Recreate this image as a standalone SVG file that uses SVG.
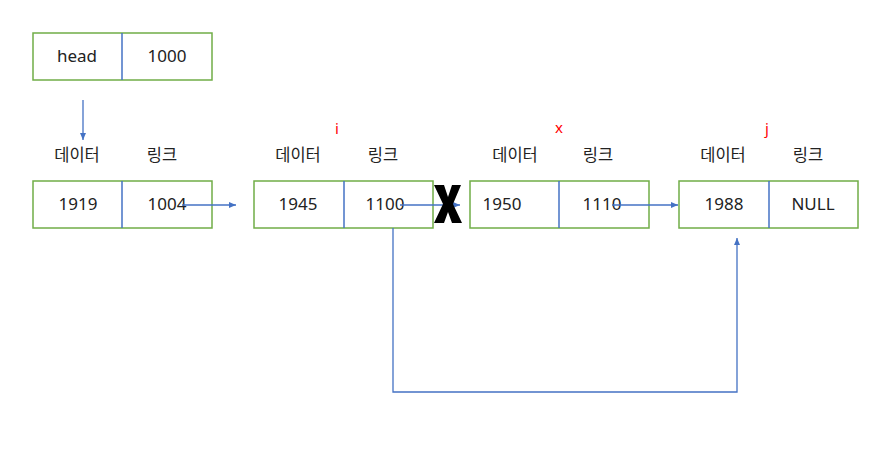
<svg xmlns="http://www.w3.org/2000/svg" width="883" height="462" viewBox="0 0 883 462">
<style>
.box{fill:#fff;stroke:#70ad47;stroke-width:1.5}
.div{stroke:#4472c4;stroke-width:1.5}
.t{font-family:"Noto Sans CJK KR","Noto Sans",sans-serif;font-size:16.5px;fill:#222;text-anchor:middle}
.n{font-family:"Noto Sans","Noto Sans CJK KR",sans-serif;font-size:17px;fill:#222;text-anchor:middle}
.r{font-family:"Noto Sans","Noto Sans CJK KR",sans-serif;font-size:15px;fill:#ff0000;text-anchor:middle}
.c{fill:none;stroke:#4472c4;stroke-width:1.3}
</style>
<defs>
<marker id="ah" markerWidth="8" markerHeight="8" refX="7" refY="4" orient="auto" markerUnits="userSpaceOnUse">
<path d="M0,1 L7,4 L0,7 Z" fill="#4472c4"/>
</marker>
</defs>
<rect width="883" height="462" fill="#fff"/>
<g id="head">
<rect class="box" x="33" y="33" width="179" height="47"/>
<line class="div" x1="122" y1="33" x2="122" y2="80"/>
<text class="n" x="77" y="62">head</text>
<text class="n" x="167" y="62">1000</text>
</g>
<g id="node1">
<text class="t" x="77" y="161">데이터</text>
<text class="t" x="162" y="161">링크</text>
<rect class="box" x="33" y="181" width="179" height="47"/>
<line class="div" x1="122" y1="181" x2="122" y2="228"/>
<text class="n" x="78" y="210">1919</text>
<text class="n" x="167" y="210">1004</text>
</g>
<g id="node2">
<text class="r" x="337" y="134">i</text>
<text class="t" x="298" y="161">데이터</text>
<text class="t" x="383" y="161">링크</text>
<rect class="box" x="254" y="181" width="179" height="47"/>
<line class="div" x1="344" y1="181" x2="344" y2="228"/>
<text class="n" x="298" y="210">1945</text>
<text class="n" x="385" y="210">1100</text>
</g>
<g id="node3">
<text class="r" x="559" y="133">x</text>
<text class="t" x="515" y="161">데이터</text>
<text class="t" x="598" y="161">링크</text>
<rect class="box" x="470" y="181" width="179" height="47"/>
<line class="div" x1="559" y1="181" x2="559" y2="228"/>
<text class="n" x="502" y="210">1950</text>
<text class="n" x="602" y="210">1110</text>
</g>
<g id="node4">
<text class="r" x="767" y="134">j</text>
<text class="t" x="723" y="161">데이터</text>
<text class="t" x="808" y="161">링크</text>
<rect class="box" x="679" y="181" width="179" height="47"/>
<line class="div" x1="769" y1="181" x2="769" y2="228"/>
<text class="n" x="724" y="210">1988</text>
<text class="n" x="813" y="210">NULL</text>
</g>
<g id="connectors">
<line class="c" x1="83" y1="100" x2="83" y2="140" marker-end="url(#ah)"/>
<line class="c" x1="182" y1="205" x2="236" y2="205" marker-end="url(#ah)"/>
<line class="c" x1="400" y1="205" x2="460" y2="205" marker-end="url(#ah)"/>
<line class="c" x1="612" y1="205" x2="678" y2="205" marker-end="url(#ah)"/>
<polyline class="c" points="393,228 393,392 737,392 737,238" marker-end="url(#ah)"/>
</g>
<g id="xmark">
<path d="M434,185 L444,185 L448,197 L452,185 L461,185 L453,204 L462,223 L452,223 L448,212 L444,223 L434,223 L443,204 Z" fill="#000"/>
</g>
</svg>
